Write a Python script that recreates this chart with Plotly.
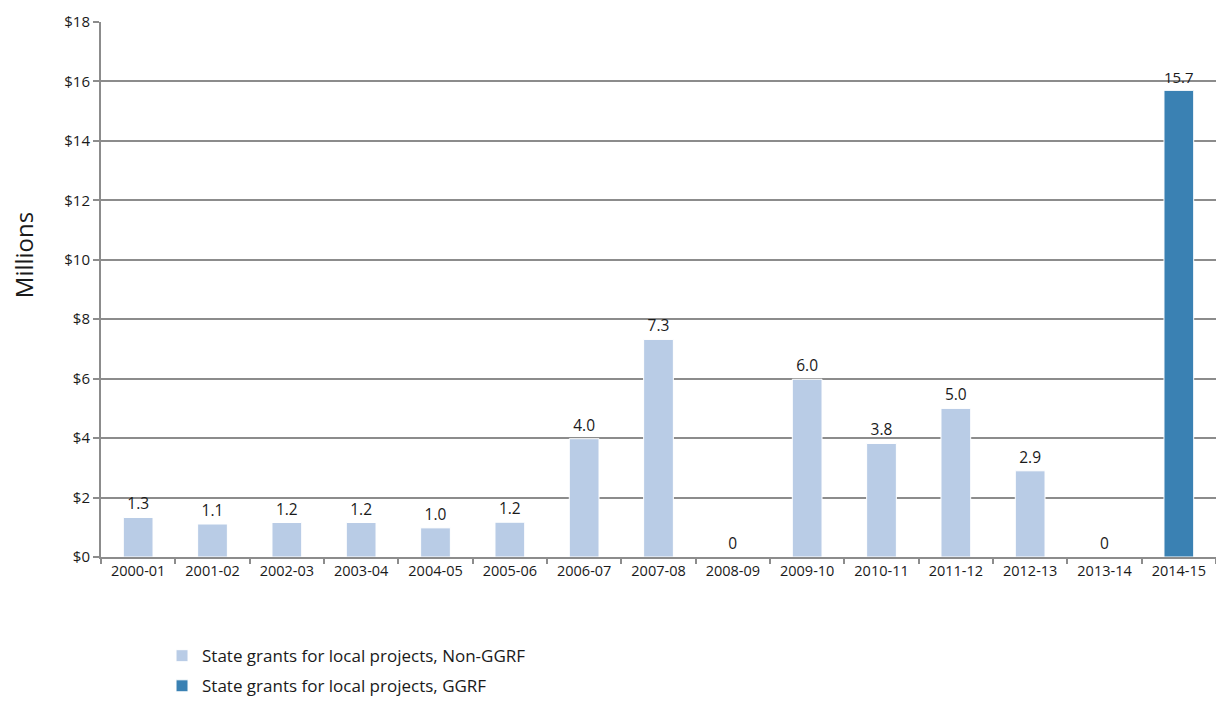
import plotly.graph_objects as go

years = ["2000-01", "2001-02", "2002-03", "2003-04", "2004-05", "2005-06", "2006-07",
         "2007-08", "2008-09", "2009-10", "2010-11", "2011-12", "2012-13", "2013-14", "2014-15"]
non_ggrf = [1.33, 1.11, 1.16, 1.16, 0.98, 1.17, 3.98, 7.32, 0, 5.98, 3.82, 5.0, 2.9, 0, None]
ggrf = [None] * 14 + [15.7]
y_ticks = [0, 2, 4, 6, 8, 10, 12, 14, 16, 18]
y_tick_labels = ["$" + str(v) for v in y_ticks]


def labels(vals):
    out = []
    for v in vals:
        if v is None:
            out.append("")
        elif v == 0:
            out.append("0")
        else:
            out.append(f"{v:.1f}")
    return out


fig = go.Figure()
fig.add_trace(go.Bar(
    x=years, y=non_ggrf, name="State grants for local projects, Non-GGRF",
    legendgroup="a",
    marker=dict(color="#B9CCE6", line=dict(color="white", width=1)),
    text=labels(non_ggrf), textposition="outside", cliponaxis=False,
    textfont=dict(family="Open Sans", size=15.5, color="#1a1a1a"),
))
fig.add_trace(go.Bar(
    x=years, y=ggrf, name="State grants for local projects, GGRF",
    legendgroup="b",
    marker=dict(color="#3A81B3", line=dict(color="white", width=1)),
    text=labels(ggrf), textposition="outside", cliponaxis=False,
    textfont=dict(family="Open Sans", size=15.5, color="#1a1a1a"),
))

fig.update_layout(
    width=1208, height=694,
    barmode="overlay", bargap=0.6,
    plot_bgcolor="white", paper_bgcolor="white",
    margin=dict(l=93, r=0, t=14, b=145, autoexpand=False),
    font=dict(family="Open Sans", color="#1a1a1a"),
    showlegend=True,
    legend=dict(
        xref="container", yref="container", x=0.1275, y=0.092,
        xanchor="left", yanchor="top",
        font=dict(family="Open Sans", size=17, color="#1a1a1a"),
        tracegroupgap=5, bgcolor="rgba(0,0,0,0)",
    ),
    annotations=[dict(
        text="Millions", xref="paper", yref="paper", x=-0.07, y=0.564,
        xanchor="center", yanchor="middle", textangle=-90, showarrow=False,
        font=dict(family="Open Sans", size=24, color="#1a1a1a"),
    )],
)
fig.update_yaxes(
    range=[0, 18], tickvals=y_ticks, ticktext=y_tick_labels,
    showgrid=True, gridcolor="#8C8C8C", gridwidth=2,
    showline=True, linecolor="#8C8C8C", linewidth=2,
    ticks="outside", ticklen=6, tickcolor="#8C8C8C", tickwidth=2,
    tickfont=dict(family="Open Sans", size=15, color="#1a1a1a"),
    zeroline=False, automargin=False,
)
fig.update_xaxes(
    type="category",
    showline=True, linecolor="#8C8C8C", linewidth=2,
    ticks="outside", ticklen=5, tickcolor="#8C8C8C", tickwidth=2,
    tickson="boundaries",
    tickfont=dict(family="Open Sans", size=14.5, color="#1a1a1a"),
    automargin=False,
)

fig.write_html("out.html")
